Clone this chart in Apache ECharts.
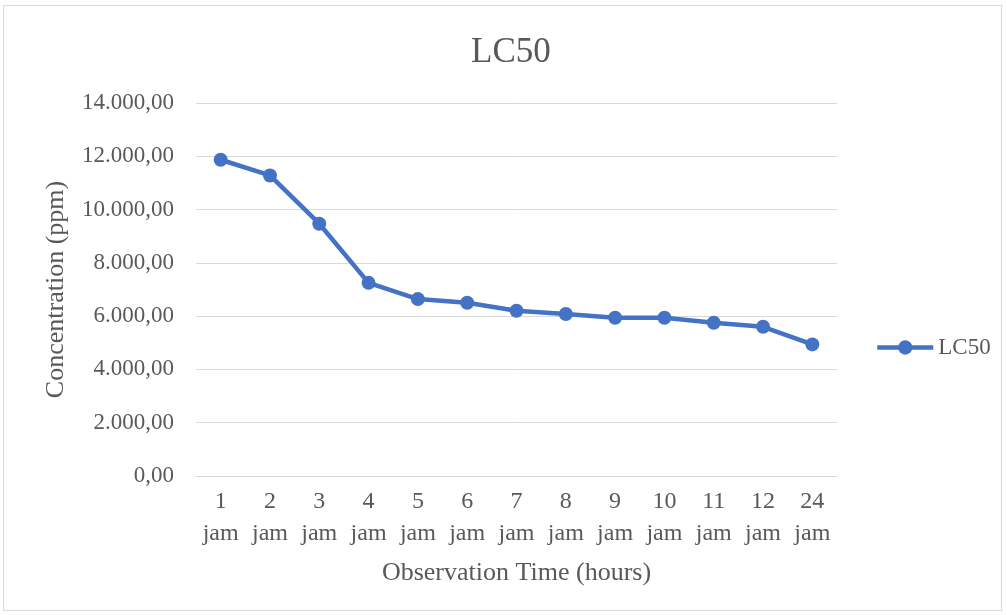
<!DOCTYPE html>
<html>
<head>
<meta charset="utf-8">
<script src="https://cdn.jsdelivr.net/npm/echarts@6/dist/echarts.min.js"></script>
<style>
  html, body { margin: 0; padding: 0; background: #fff; }
  #chart { position: absolute; left: 3px; top: 5px; width: 999px; height: 606px; border: 1px solid #d9d9d9; box-sizing: border-box; }
</style>
</head>
<body>
<div id="chart"></div>
<script>
var categories = ['1\njam', '2\njam', '3\njam', '4\njam', '5\njam', '6\njam', '7\njam', '8\njam', '9\njam', '10\njam', '11\njam', '12\njam', '24\njam'];
var lc50 = [11870, 11280, 9470, 7250, 6640, 6500, 6200, 6080, 5940, 5940, 5750, 5600, 4940];

(function(){
  var chartDom = document.getElementById('chart');
  var myChart = echarts.init(chartDom);
  var serif = 'Liberation Serif';
  var grey = '#595959';

  // 12000 -> 12.000,00
  function fmt(v) {
    var s = Math.round(v).toString().replace(/\B(?=(\d{3})+(?!\d))/g, '.');
    return s + ',00';
  }

  var option = {
    animation: false,
    title: {
      text: 'LC50',
      left: 462,
      top: 24,
      textStyle: { fontFamily: serif, fontSize: 35, fontWeight: 'normal', color: grey }
    },
    legend: {
      data: ['LC50'],
      orient: 'vertical',
      left: 866,
      top: 325,
      itemWidth: 56,
      itemHeight: 18,
      itemGap: 4,
      lineStyle: { width: 4.5 },
      textStyle: { fontFamily: serif, fontSize: 23, color: grey }
    },
    grid: {
      left: 192,
      right: 164,
      top: 97,
      bottom: 134
    },
    xAxis: {
      type: 'category',
      data: categories,
      name: 'Observation Time (hours)',
      nameLocation: 'middle',
      nameGap: 84,
      nameTextStyle: { fontFamily: serif, fontSize: 26, color: grey },
      axisLine: { show: true, lineStyle: { color: '#d9d9d9', width: 1 } },
      axisTick: { show: false },
      axisLabel: {
        fontFamily: serif, fontSize: 24, color: grey,
        lineHeight: 32, margin: 10, interval: 0
      }
    },
    yAxis: {
      type: 'value',
      min: 0,
      max: 14000,
      interval: 2000,
      name: 'Concentration (ppm)',
      nameLocation: 'middle',
      nameGap: 127,
      nameTextStyle: { fontFamily: serif, fontSize: 26, color: grey },
      axisLine: { show: false },
      axisTick: { show: false },
      axisLabel: {
        fontFamily: serif, fontSize: 23, color: grey, margin: 22,
        formatter: fmt
      },
      splitLine: { lineStyle: { color: '#d9d9d9', width: 1 } }
    },
    series: [
      {
        name: 'LC50',
        type: 'line',
        data: lc50,
        symbol: 'circle',
        symbolSize: 14,
        lineStyle: { color: '#4472C4', width: 4.5 },
        itemStyle: { color: '#4472C4' }
      }
    ]
  };

  option && myChart.setOption(option);
})();
</script>
</body>
</html>
